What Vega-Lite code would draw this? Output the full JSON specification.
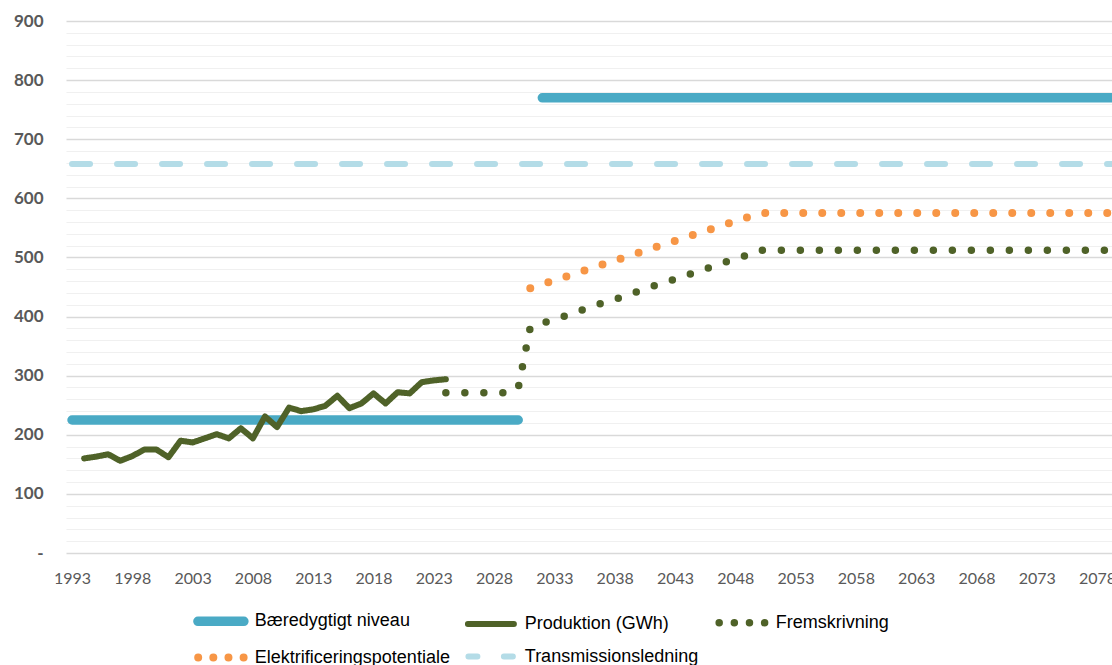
{
  "$schema": "https://vega.github.io/schema/vega-lite/v6.json",
  "width": 1046,
  "height": 532,
  "autosize": {"type": "none"},
  "padding": {"left": 66, "top": 21, "right": 0, "bottom": 112},
  "background": "white",
  "config": {"view": {"stroke": null}},
  "data": {
    "values": [
      {"serie": "Bæredygtigt niveau", "seg": "a", "year": 1993, "value": 225},
      {"serie": "Bæredygtigt niveau", "seg": "a", "year": 2030, "value": 225},
      {"serie": "Bæredygtigt niveau", "seg": "b", "year": 2032, "value": 770},
      {"serie": "Bæredygtigt niveau", "seg": "b", "year": 2080, "value": 770},
      {"serie": "Transmissionsledning", "seg": "t", "year": 1993, "value": 658},
      {"serie": "Transmissionsledning", "seg": "t", "year": 2080, "value": 658},
      {"serie": "Produktion (GWh)", "seg": "p", "year": 1994, "value": 160},
      {"serie": "Produktion (GWh)", "seg": "p", "year": 1995, "value": 163},
      {"serie": "Produktion (GWh)", "seg": "p", "year": 1996, "value": 167},
      {"serie": "Produktion (GWh)", "seg": "p", "year": 1997, "value": 156},
      {"serie": "Produktion (GWh)", "seg": "p", "year": 1998, "value": 164},
      {"serie": "Produktion (GWh)", "seg": "p", "year": 1999, "value": 175},
      {"serie": "Produktion (GWh)", "seg": "p", "year": 2000, "value": 175},
      {"serie": "Produktion (GWh)", "seg": "p", "year": 2001, "value": 162},
      {"serie": "Produktion (GWh)", "seg": "p", "year": 2002, "value": 190},
      {"serie": "Produktion (GWh)", "seg": "p", "year": 2003, "value": 187},
      {"serie": "Produktion (GWh)", "seg": "p", "year": 2004, "value": 194},
      {"serie": "Produktion (GWh)", "seg": "p", "year": 2005, "value": 201},
      {"serie": "Produktion (GWh)", "seg": "p", "year": 2006, "value": 194},
      {"serie": "Produktion (GWh)", "seg": "p", "year": 2007, "value": 211},
      {"serie": "Produktion (GWh)", "seg": "p", "year": 2008, "value": 194},
      {"serie": "Produktion (GWh)", "seg": "p", "year": 2009, "value": 231},
      {"serie": "Produktion (GWh)", "seg": "p", "year": 2010, "value": 213},
      {"serie": "Produktion (GWh)", "seg": "p", "year": 2011, "value": 246},
      {"serie": "Produktion (GWh)", "seg": "p", "year": 2012, "value": 240},
      {"serie": "Produktion (GWh)", "seg": "p", "year": 2013, "value": 243},
      {"serie": "Produktion (GWh)", "seg": "p", "year": 2014, "value": 249},
      {"serie": "Produktion (GWh)", "seg": "p", "year": 2015, "value": 266},
      {"serie": "Produktion (GWh)", "seg": "p", "year": 2016, "value": 245},
      {"serie": "Produktion (GWh)", "seg": "p", "year": 2017, "value": 253},
      {"serie": "Produktion (GWh)", "seg": "p", "year": 2018, "value": 270},
      {"serie": "Produktion (GWh)", "seg": "p", "year": 2019, "value": 253},
      {"serie": "Produktion (GWh)", "seg": "p", "year": 2020, "value": 272},
      {"serie": "Produktion (GWh)", "seg": "p", "year": 2021, "value": 270},
      {"serie": "Produktion (GWh)", "seg": "p", "year": 2022, "value": 289},
      {"serie": "Produktion (GWh)", "seg": "p", "year": 2023, "value": 292},
      {"serie": "Produktion (GWh)", "seg": "p", "year": 2024, "value": 294},
      {"serie": "Fremskrivning", "seg": "f", "year": 2024, "value": 271},
      {"serie": "Fremskrivning", "seg": "f", "year": 2025, "value": 271},
      {"serie": "Fremskrivning", "seg": "f", "year": 2026, "value": 271},
      {"serie": "Fremskrivning", "seg": "f", "year": 2027, "value": 271},
      {"serie": "Fremskrivning", "seg": "f", "year": 2028, "value": 271},
      {"serie": "Fremskrivning", "seg": "f", "year": 2029, "value": 271},
      {"serie": "Fremskrivning", "seg": "f", "year": 2030, "value": 279},
      {"serie": "Fremskrivning", "seg": "f", "year": 2031, "value": 382},
      {"serie": "Fremskrivning", "seg": "f", "year": 2032, "value": 389},
      {"serie": "Fremskrivning", "seg": "f", "year": 2033, "value": 395},
      {"serie": "Fremskrivning", "seg": "f", "year": 2034, "value": 402},
      {"serie": "Fremskrivning", "seg": "f", "year": 2035, "value": 409},
      {"serie": "Fremskrivning", "seg": "f", "year": 2036, "value": 416},
      {"serie": "Fremskrivning", "seg": "f", "year": 2037, "value": 423},
      {"serie": "Fremskrivning", "seg": "f", "year": 2038, "value": 429},
      {"serie": "Fremskrivning", "seg": "f", "year": 2039, "value": 436},
      {"serie": "Fremskrivning", "seg": "f", "year": 2040, "value": 443},
      {"serie": "Fremskrivning", "seg": "f", "year": 2041, "value": 450},
      {"serie": "Fremskrivning", "seg": "f", "year": 2042, "value": 457},
      {"serie": "Fremskrivning", "seg": "f", "year": 2043, "value": 463},
      {"serie": "Fremskrivning", "seg": "f", "year": 2044, "value": 470},
      {"serie": "Fremskrivning", "seg": "f", "year": 2045, "value": 477},
      {"serie": "Fremskrivning", "seg": "f", "year": 2046, "value": 484},
      {"serie": "Fremskrivning", "seg": "f", "year": 2047, "value": 491},
      {"serie": "Fremskrivning", "seg": "f", "year": 2048, "value": 497},
      {"serie": "Fremskrivning", "seg": "f", "year": 2049, "value": 504},
      {"serie": "Fremskrivning", "seg": "f", "year": 2050, "value": 512},
      {"serie": "Fremskrivning", "seg": "f", "year": 2080, "value": 512},
      {"serie": "Elektrificeringspotentiale", "seg": "e", "year": 2031, "value": 448},
      {"serie": "Elektrificeringspotentiale", "seg": "e", "year": 2032, "value": 455},
      {"serie": "Elektrificeringspotentiale", "seg": "e", "year": 2033, "value": 461},
      {"serie": "Elektrificeringspotentiale", "seg": "e", "year": 2034, "value": 468},
      {"serie": "Elektrificeringspotentiale", "seg": "e", "year": 2035, "value": 475},
      {"serie": "Elektrificeringspotentiale", "seg": "e", "year": 2036, "value": 481},
      {"serie": "Elektrificeringspotentiale", "seg": "e", "year": 2037, "value": 488},
      {"serie": "Elektrificeringspotentiale", "seg": "e", "year": 2038, "value": 495},
      {"serie": "Elektrificeringspotentiale", "seg": "e", "year": 2039, "value": 501},
      {"serie": "Elektrificeringspotentiale", "seg": "e", "year": 2040, "value": 508},
      {"serie": "Elektrificeringspotentiale", "seg": "e", "year": 2041, "value": 515},
      {"serie": "Elektrificeringspotentiale", "seg": "e", "year": 2042, "value": 521},
      {"serie": "Elektrificeringspotentiale", "seg": "e", "year": 2043, "value": 528},
      {"serie": "Elektrificeringspotentiale", "seg": "e", "year": 2044, "value": 535},
      {"serie": "Elektrificeringspotentiale", "seg": "e", "year": 2045, "value": 541},
      {"serie": "Elektrificeringspotentiale", "seg": "e", "year": 2046, "value": 548},
      {"serie": "Elektrificeringspotentiale", "seg": "e", "year": 2047, "value": 555},
      {"serie": "Elektrificeringspotentiale", "seg": "e", "year": 2048, "value": 561},
      {"serie": "Elektrificeringspotentiale", "seg": "e", "year": 2049, "value": 568},
      {"serie": "Elektrificeringspotentiale", "seg": "e", "year": 2050, "value": 575},
      {"serie": "Elektrificeringspotentiale", "seg": "e", "year": 2080, "value": 575}
    ]
  },
  "mark": {"type": "line", "clip": true, "strokeCap": "round", "strokeJoin": "round"},
  "encoding": {
    "x": {
      "field": "year",
      "type": "quantitative",
      "scale": {"domain": [1992.5, 2079.24], "nice": false, "zero": false},
      "axis": {
        "title": null,
        "values": [1993, 1998, 2003, 2008, 2013, 2018, 2023, 2028, 2033, 2038, 2043, 2048, 2053, 2058, 2063, 2068, 2073, 2078],
        "format": "d",
        "grid": false,
        "ticks": false,
        "domain": false,
        "labelFont": "Lato",
        "labelFontSize": 16,
        "labelColor": "#595959",
        "labelPadding": 17,
        "labelFlush": false,
        "labelOverlap": false
      }
    },
    "y": {
      "field": "value",
      "type": "quantitative",
      "scale": {"domain": [0, 900], "nice": false},
      "axis": {
        "title": null,
        "values": [0, 20, 40, 60, 80, 100, 120, 140, 160, 180, 200, 220, 240, 260, 280, 300, 320, 340, 360, 380, 400, 420, 440, 460, 480, 500, 520, 540, 560, 580, 600, 620, 640, 660, 680, 700, 720, 740, 760, 780, 800, 820, 840, 860, 880, 900],
        "format": "d",
        "labelExpr": "datum.value % 100 === 0 ? (datum.value === 0 ? '-   ' : datum.label) : ''",
        "domain": false,
        "ticks": false,
        "grid": true,
        "gridColor": {"condition": {"test": "datum.value % 100 === 0", "value": "#d9d9d9"}, "value": "#f0f0f0"},
        "gridWidth": {"condition": {"test": "datum.value % 100 === 0", "value": 1.5}, "value": 1.2},
        "labelFont": "Lato",
        "labelFontWeight": "bold",
        "labelFontSize": 17,
        "labelColor": "#595959",
        "labelPadding": 23,
        "labelOverlap": false
      }
    },
    "color": {
      "field": "serie",
      "type": "nominal",
      "scale": {
        "domain": ["Bæredygtigt niveau", "Produktion (GWh)", "Fremskrivning", "Elektrificeringspotentiale", "Transmissionsledning"],
        "range": ["#4AAAC5", "#4F6228", "#4F6228", "#F79646", "#B4DCE7"]
      },
      "legend": {
        "title": null,
        "orient": "none",
        "legendX": 137.4,
        "legendY": 582.6,
        "direction": "horizontal",
        "columns": 3,
        "symbolType": "stroke",
        "symbolSize": 637,
        "labelFont": "Liberation Sans",
        "labelFontSize": 18,
        "labelColor": "#000000",
        "labelLimit": 400,
        "labelOffset": 16.4,
        "columnPadding": 5,
        "rowPadding": 0,
        "encode": {
          "symbols": {
            "update": {
              "strokeCap": {"value": "round"},
              "shape": {"signal": "datum.value === 'Transmissionsledning' ? 'M-1.78,0H-1.07M1.03,0H1.74' : ((datum.value === 'Fremskrivning' || datum.value === 'Elektrificeringspotentiale') ? 'M-1.8,0h0.01M-0.6,0h0.01M0.6,0h0.01M1.8,0h0.01' : 'M-1.822,0H1.822')"}
            }
          }
        }
      }
    },
    "strokeDash": {
      "field": "serie",
      "type": "nominal",
      "scale": {
        "domain": ["Bæredygtigt niveau", "Produktion (GWh)", "Fremskrivning", "Elektrificeringspotentiale", "Transmissionsledning"],
        "range": [[1, 0], [1, 0], [0, 19], [0, 19], [18, 27]]
      }
    },
    "strokeWidth": {
      "field": "serie",
      "type": "nominal",
      "scale": {
        "type": "ordinal",
        "domain": ["Bæredygtigt niveau", "Produktion (GWh)", "Fremskrivning", "Elektrificeringspotentiale", "Transmissionsledning"],
        "range": [9.5, 6, 7.5, 8, 6]
      }
    },
    "detail": {"field": "seg"}
  }
}
